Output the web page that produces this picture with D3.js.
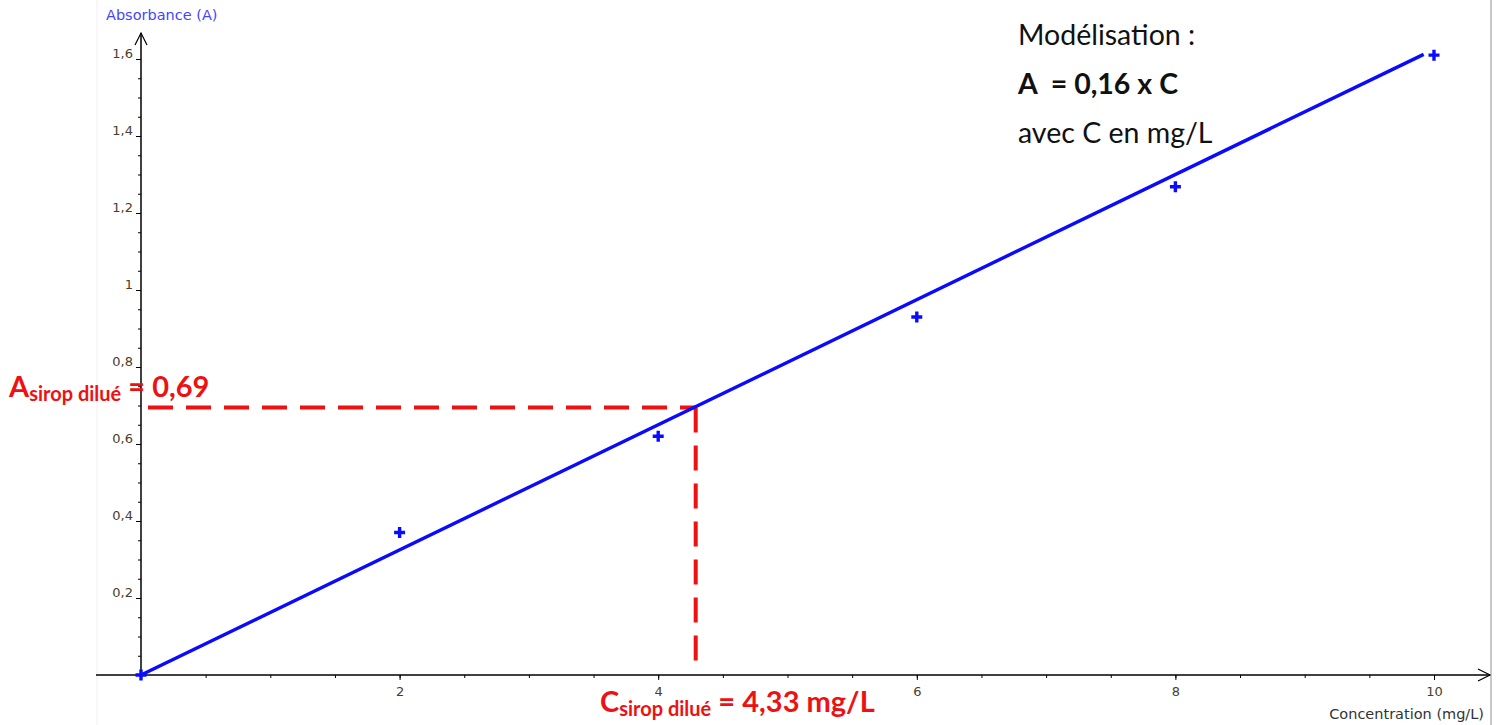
<!DOCTYPE html>
<html>
<head>
<meta charset="utf-8">
<script src="https://cdn.jsdelivr.net/npm/d3@7"></script>
<style>
  body { margin: 0; background: #fff; }
  svg { display: block; }
  .tick-label { font-family: "DejaVu Sans", sans-serif; font-size: 13px; fill: #4a3d2a; }
  .axis-title { font-family: "DejaVu Sans", sans-serif; font-size: 14.5px; }
  .note { font-family: Lato, "Open Sans", sans-serif; font-size: 28.5px; fill: #111; }
  .red-label { font-family: Lato, "Open Sans", sans-serif; font-weight: bold; fill: #ee1111; }
</style>
</head>
<body>
<svg width="1501" height="725"></svg>
<script>
// measured points (concentration in mg/L, absorbance)
var concentrations = [0, 2, 4, 6, 8, 10];
var absorbances = [0, 0.37, 0.62, 0.93, 1.268, 1.61];

// model line A = 0,16 x C as drawn
var fitC = [0, 9.92];
var fitA = [0, 1.612];

var xTicks = [2, 4, 6, 8, 10];
var yTicks = [0.2, 0.4, 0.6, 0.8, 1, 1.2, 1.4, 1.6];
var xMinor = d3.range(0.5, 10.01, 0.5);
var yMinor = d3.range(0.05, 1.62, 0.05);

// reading of the diluted syrup
var cSirop = 4.29;
var aSirop = 0.695;
var cSiropText = "4,33 mg/L";
var aSiropText = "0,69";

var svg = d3.select('svg');
var x = d3.scaleLinear().domain([0, 10]).range([141, 1434]);
var y = d3.scaleLinear().domain([0, 1.6]).range([675, 59]);

var comma = function(d){ return String(d).replace('.', ','); };

// frame lines
svg.append('line').attr('x1', 1491).attr('x2', 1491).attr('y1', 0).attr('y2', 725)
   .attr('stroke', '#c8c8c8').attr('stroke-width', 2);
svg.append('line').attr('x1', 97).attr('x2', 97).attr('y1', 0).attr('y2', 725)
   .attr('stroke', '#f6eef0').attr('stroke-width', 1);

// minor ticks
svg.append('g').attr('transform', 'translate(0,' + y(0) + ')')
   .call(d3.axisBottom(x).tickValues(xMinor).tickSize(3).tickFormat(''))
   .call(function(g){ g.select('.domain').remove(); g.selectAll('line').attr('stroke', '#000'); });
svg.append('g').attr('transform', 'translate(' + x(0) + ',0)')
   .call(d3.axisLeft(y).tickValues(yMinor).tickSize(3).tickFormat(''))
   .call(function(g){ g.select('.domain').remove(); g.selectAll('line').attr('stroke', '#000'); });

// major ticks + labels
var gx = svg.append('g').attr('transform', 'translate(0,' + y(0) + ')')
   .call(d3.axisBottom(x).tickValues(xTicks).tickSize(5).tickPadding(7).tickFormat(comma));
gx.select('.domain').remove();
gx.selectAll('line').attr('stroke', '#000');
gx.selectAll('text').attr('class', 'tick-label').attr('fill', null);

var gy = svg.append('g').attr('transform', 'translate(' + x(0) + ',0)')
   .call(d3.axisLeft(y).tickValues(yTicks).tickSize(5).tickPadding(3).tickFormat(comma));
gy.select('.domain').remove();
gy.selectAll('line').attr('stroke', '#000');
gy.selectAll('text').attr('class', 'tick-label').attr('fill', null).attr('dy', '-0.12em');

// axes with arrows
svg.append('line').attr('x1', 96).attr('x2', 1490).attr('y1', y(0)).attr('y2', y(0))
   .attr('stroke', '#000').attr('stroke-width', 1.5);
svg.append('line').attr('x1', x(0)).attr('x2', x(0)).attr('y1', y(0)).attr('y2', 33)
   .attr('stroke', '#000').attr('stroke-width', 1.5);
svg.append('path').attr('d', 'M1478,669L1490,' + y(0) + 'L1478,681')
   .attr('fill', 'none').attr('stroke', '#000').attr('stroke-width', 1.2);
svg.append('path').attr('d', 'M135,45L' + x(0) + ',33L147,45')
   .attr('fill', 'none').attr('stroke', '#000').attr('stroke-width', 1.2);

svg.append('text').attr('class', 'axis-title').attr('x', 106).attr('y', 20)
   .attr('fill', '#4444ff').text('Absorbance (A)');
svg.append('text').attr('class', 'axis-title').attr('x', 1484).attr('y', 719)
   .attr('text-anchor', 'end').attr('fill', '#333').text('Concentration (mg/L)');

// dashed reading lines
svg.append('line').attr('x1', 148).attr('x2', x(cSirop)).attr('y1', y(aSirop)).attr('y2', y(aSirop))
   .attr('stroke', '#ee1111').attr('stroke-width', 4).attr('stroke-dasharray', '25,13');
svg.append('line').attr('x1', x(cSirop)).attr('x2', x(cSirop)).attr('y1', y(aSirop)).attr('y2', y(0) - 3)
   .attr('stroke', '#ee1111').attr('stroke-width', 4).attr('stroke-dasharray', '25,13');

// model line
var line = d3.line().x(function(d){ return x(d[0]); }).y(function(d){ return y(d[1]); });
svg.append('path').datum(d3.zip(fitC, fitA)).attr('d', line)
   .attr('fill', 'none').attr('stroke', '#0a0aff').attr('stroke-width', 3.4);

// points
svg.append('g').selectAll('path').data(d3.zip(concentrations, absorbances)).join('path')
   .attr('transform', function(d){ return 'translate(' + x(d[0]) + ',' + y(d[1]) + ')'; })
   .attr('d', 'M-5.5,0H5.5M0,-5.5V5.5')
   .attr('stroke', '#0a0aff').attr('stroke-width', 3.4);

// model text
svg.append('text').attr('class', 'note').attr('x', 1018).attr('y', 45).text('Modélisation :');
svg.append('text').attr('class', 'note').attr('x', 1018).attr('y', 94).attr('font-weight', 'bold')
   .attr('font-size', 29).attr('xml:space', 'preserve').text('A  = 0,16 x C');
svg.append('text').attr('class', 'note').attr('x', 1018).attr('y', 143).text('avec C en mg/L');

// red labels
function redLabel(px, py, main, sub, rest){
  var t = svg.append('text').attr('class', 'red-label').attr('x', px).attr('y', py).attr('font-size', 29);
  t.append('tspan').text(main);
  t.append('tspan').attr('font-size', 20).attr('dy', 4).text(sub);
  t.append('tspan').attr('dy', -4).text(' = ' + rest);
}
redLabel(9, 397, 'A', 'sirop dilué', aSiropText);
redLabel(600, 712, 'C', 'sirop dilué', cSiropText);
</script>
</body>
</html>
